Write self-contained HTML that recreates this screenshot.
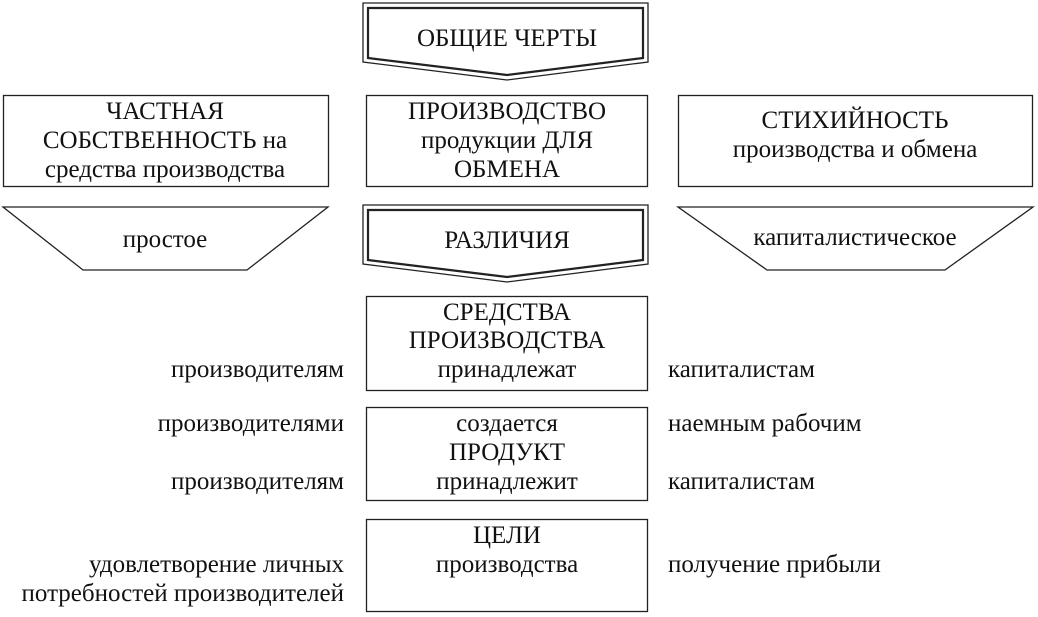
<!DOCTYPE html>
<html><head><meta charset="utf-8"><style>
html,body{margin:0;padding:0;background:#fff;}
svg{display:block;}
text{font-family:"Liberation Serif","DejaVu Serif",serif;font-size:25px;fill:#111;}
</style></head><body>
<svg width="1038" height="617" viewBox="0 0 1038 617" xmlns="http://www.w3.org/2000/svg">
<g fill="none" stroke="#222" stroke-width="1.3">
<polygon points="363,3 648,3 648,62 507,80 363,62"/>
<polygon points="368,8 643,8 643,58 507,75 368,58" stroke-width="2.2"/>
<polygon points="363,205 648,205 648,264 507,282 363,264"/>
<polygon points="368,210 643,210 643,260 507,277 368,260" stroke-width="2.2"/>
<rect x="3.5" y="95.5" width="325" height="91"/>
<rect x="366.5" y="95.5" width="281" height="91"/>
<rect x="678.5" y="95.5" width="354" height="91"/>
<rect x="366.5" y="296.5" width="281" height="94"/>
<rect x="366.5" y="407.5" width="281" height="93"/>
<rect x="366.5" y="519.5" width="281" height="92"/>
<polygon points="3,207 328,207 247,270 83,270"/>
<polygon points="678,207 1033,207 945,270 767,270"/>
</g>
<g text-anchor="middle">
<text x="507" y="46">ОБЩИЕ ЧЕРТЫ</text>
<text x="165" y="119">ЧАСТНАЯ</text>
<text x="165" y="148">СОБСТВЕННОСТЬ на</text>
<text x="165" y="177">средства производства</text>
<text x="507" y="119">ПРОИЗВОДСТВО</text>
<text x="507" y="148">продукции ДЛЯ</text>
<text x="507" y="177">ОБМЕНА</text>
<text x="855" y="128">СТИХИЙНОСТЬ</text>
<text x="855" y="157">производства и обмена</text>
<text x="165" y="247">простое</text>
<text x="855" y="245">капиталистическое</text>
<text x="507" y="248">РАЗЛИЧИЯ</text>
<text x="507" y="320">СРЕДСТВА</text>
<text x="507" y="348">ПРОИЗВОДСТВА</text>
<text x="507" y="377">принадлежат</text>
<text x="507" y="431">создается</text>
<text x="507" y="460">ПРОДУКТ</text>
<text x="507" y="489">принадлежит</text>
<text x="507" y="543">ЦЕЛИ</text>
<text x="507" y="572">производства</text>
</g>
<g text-anchor="end">
<text x="344" y="377">производителям</text>
<text x="344" y="431">производителями</text>
<text x="344" y="489">производителям</text>
<text x="344" y="572">удовлетворение личных</text>
<text x="344" y="601">потребностей производителей</text>
</g>
<g>
<text x="668" y="377">капиталистам</text>
<text x="668" y="431">наемным рабочим</text>
<text x="668" y="489">капиталистам</text>
<text x="668" y="572">получение прибыли</text>
</g>
</svg>
</body></html>
